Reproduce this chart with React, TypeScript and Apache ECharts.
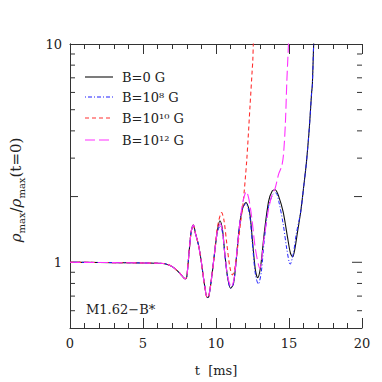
import React, { useEffect, useRef } from "react";
import * as echarts from "echarts";

// ---- data ----
const tBlack = [0, 2, 4, 6, 6.5, 7.0, 7.5, 7.9, 8.0, 8.15, 8.3, 8.45, 8.6, 8.8, 9.0, 9.2, 9.4, 9.5, 9.7, 9.9, 10.1, 10.27, 10.45, 10.6, 10.8, 11.0, 11.2, 11.4, 11.6, 11.8, 12.05, 12.3, 12.5, 12.7, 12.85, 13.05, 13.3, 13.6, 13.85, 14.05, 14.3, 14.6, 14.9, 15.1, 15.25, 15.4, 15.6, 15.8, 16.0, 16.2, 16.4, 16.55, 16.6, 16.7, 16.75];
const rhoBlack = [1.0, 0.998, 0.995, 0.99, 0.985, 0.955, 0.895, 0.84, 0.86, 1.1, 1.38, 1.48, 1.35, 1.2, 1.0, 0.8, 0.69, 0.695, 0.85, 1.1, 1.4, 1.55, 1.4, 1.1, 0.85, 0.76, 0.8, 1.05, 1.45, 1.75, 1.88, 1.7, 1.25, 0.92, 0.85, 0.95, 1.35, 1.9, 2.12, 2.15, 2.0, 1.7, 1.3, 1.1, 1.06, 1.15, 1.4, 1.7, 2.2, 2.9, 4.2, 6.0, 6.5, 10.5, 12];

const tBlue = [0, 2, 4, 6, 6.5, 7.0, 7.5, 7.9, 8.0, 8.15, 8.3, 8.45, 8.6, 8.8, 9.0, 9.2, 9.4, 9.5, 9.7, 9.9, 10.1, 10.3, 10.45, 10.6, 10.8, 11.0, 11.2, 11.4, 11.6, 11.8, 12.05, 12.3, 12.5, 12.7, 12.9, 13.1, 13.3, 13.6, 13.9, 14.1, 14.3, 14.6, 14.85, 15.08, 15.3, 15.5, 15.8, 16.0, 16.2, 16.4, 16.55, 16.6, 16.7, 16.75];
const rhoBlue = [1.0, 0.998, 0.995, 0.99, 0.985, 0.955, 0.895, 0.84, 0.86, 1.1, 1.38, 1.48, 1.35, 1.2, 1.0, 0.8, 0.69, 0.695, 0.85, 1.1, 1.38, 1.47, 1.36, 1.1, 0.85, 0.76, 0.8, 1.05, 1.45, 1.75, 1.86, 1.65, 1.2, 0.88, 0.795, 0.9, 1.25, 1.8, 2.05, 2.08, 1.9, 1.5, 1.15, 0.98, 1.1, 1.35, 1.7, 2.2, 2.9, 4.2, 6.0, 6.5, 10.5, 12];

const tRed = [0, 2, 4, 6, 6.5, 7.0, 7.5, 7.9, 8.0, 8.15, 8.3, 8.45, 8.6, 8.8, 9.0, 9.2, 9.4, 9.5, 9.7, 9.9, 10.1, 10.39, 10.55, 10.75, 10.95, 11.12, 11.3, 11.5, 11.7, 11.85, 12.1, 12.33, 12.48, 12.52, 12.56, 12.6];
const rhoRed = [1.0, 0.998, 0.995, 0.99, 0.985, 0.955, 0.895, 0.84, 0.86, 1.1, 1.38, 1.48, 1.35, 1.2, 1.0, 0.8, 0.69, 0.695, 0.85, 1.1, 1.45, 1.69, 1.55, 1.2, 0.95, 0.875, 0.95, 1.2, 1.55, 1.85, 2.9, 5.2, 7.6, 8.4, 10.2, 12];

const tMagenta = [0, 2, 4, 6, 6.5, 7.0, 7.5, 7.9, 8.0, 8.15, 8.3, 8.45, 8.6, 8.8, 9.0, 9.2, 9.4, 9.5, 9.7, 9.9, 10.1, 10.3, 10.45, 10.6, 10.8, 11.05, 11.25, 11.45, 11.65, 11.85, 12.08, 12.25, 12.45, 12.7, 13.0, 13.3, 13.6, 13.85, 14.05, 14.3, 14.5, 14.62, 14.75, 14.85, 14.97, 15.0];
const rhoMagenta = [1.0, 0.998, 0.995, 0.99, 0.985, 0.955, 0.895, 0.84, 0.86, 1.1, 1.38, 1.48, 1.35, 1.2, 1.0, 0.8, 0.69, 0.695, 0.85, 1.1, 1.4, 1.5, 1.38, 1.1, 0.86, 0.77, 0.85, 1.15, 1.55, 1.9, 2.11, 1.95, 1.6, 1.15, 0.94, 1.3, 1.75, 2.05, 2.18, 2.55, 2.75, 3.1, 4.3, 6.7, 10.2, 12];

const legendNames = ["B=0 G", "B=10⁸ G", "B=10¹⁰ G", "B=10¹² G"];
const seriesColors = ["#111", "#2020ff", "#ff3030", "#ff30ff"];
const seriesDash: any[] = ["solid", [1, 2, 4, 2], [4, 3], [10, 4]];
const xTickLabels = [0, 5, 10, 15, 20];
const yMajorLabels = [1, 10];
const yTickValues = [0.6, 0.7, 0.8, 0.9, 1, 2, 3, 4, 5, 6, 7, 8, 9];

const FONT = "DejaVu Serif";

function pairs(t: number[], v: number[]) {
  return t.map((x, i) => [x, v[i]]);
}

export default function App() {
  const ref = useRef<HTMLDivElement>(null);
  useEffect(() => {
    if (!ref.current) return;
    const chart = echarts.init(ref.current, null, { renderer: "svg" });
    const axisColor = "#333";
    const xAxisCommon = {
      type: "value",
      min: 0,
      max: 20,
      interval: 5,
      axisLine: { show: true, lineStyle: { color: axisColor, width: 1 } },
      axisTick: { show: true, inside: true, length: 10, lineStyle: { color: axisColor } },
      minorTick: { show: true, splitNumber: 5, length: 5, lineStyle: { color: axisColor } },
      splitLine: { show: false },
      minorSplitLine: { show: false },
    };
    const legendRowsY = [77, 97, 118, 140];
    const legendGraphics: any[] = [];
    legendNames.forEach((name, i) => {
      const dash = seriesDash[i];
      legendGraphics.push({
        type: "line",
        shape: { x1: 85, y1: legendRowsY[i], x2: 113, y2: legendRowsY[i] },
        style: {
          stroke: seriesColors[i],
          lineWidth: 1.1,
          lineDash: dash === "solid" ? null : dash,
        },
      });
      legendGraphics.push({
        type: "text",
        x: 122,
        y: legendRowsY[i],
        style: {
          text: name,
          fontFamily: FONT,
          fontSize: 13,
          fill: "#222",
          verticalAlign: "middle",
        },
      });
    });

    const lineSeries = [
      [tBlack, rhoBlack],
      [tBlue, rhoBlue],
      [tRed, rhoRed],
      [tMagenta, rhoMagenta],
    ].map(([t, v], i) => ({
      name: legendNames[i],
      type: "line",
      data: pairs(t as number[], v as number[]),
      showSymbol: false,
      symbol: "none",
      smooth: 0.3,
      lineStyle: { color: seriesColors[i], width: i === 1 ? 1 : 1.1, type: seriesDash[i] },
      itemStyle: { color: seriesColors[i] },
    }));

    const option: any = {
      animation: false,
      backgroundColor: "#fff",
      grid: { left: 70, right: 20, top: 44, bottom: 47, containLabel: false },
      xAxis: [
        {
          ...xAxisCommon,
          position: "bottom",
          axisLabel: {
            show: true,
            margin: 9,
            fontFamily: FONT,
            fontSize: 13,
            color: "#222",
            formatter: (v: number) => (xTickLabels.includes(v) ? String(v) : ""),
          },
          name: "t  [ms]",
          nameLocation: "middle",
          nameGap: 36,
          nameTextStyle: { fontFamily: FONT, fontSize: 13, color: "#222" },
        },
        {
          ...xAxisCommon,
          position: "top",
          axisLabel: { show: false },
        },
      ],
      yAxis: [
        {
          type: "log",
          logBase: 10,
          min: 0.5,
          max: 10,
          position: "left",
          axisLine: { show: true, lineStyle: { color: axisColor, width: 1 } },
          axisTick: { show: false },
          splitLine: { show: false },
          axisLabel: {
            show: true,
            margin: 8,
            fontFamily: FONT,
            fontSize: 13,
            color: "#222",
            showMinLabel: false,
            showMaxLabel: true,
            formatter: (v: number) => {
              const m = yMajorLabels.find((x) => Math.abs(x - v) < 1e-6);
              return m !== undefined ? String(m) : "";
            },
          },
        },
        {
          type: "log",
          logBase: 10,
          min: 0.5,
          max: 10,
          position: "right",
          axisLine: { show: true, lineStyle: { color: axisColor, width: 1 } },
          axisTick: { show: false },
          splitLine: { show: false },
          axisLabel: { show: false },
        },
      ],
      graphic: [
        ...legendGraphics,
        {
          type: "text",
          x: 86,
          y: 309,
          style: { text: "M1.62−B*", fontFamily: FONT, fontSize: 13, fill: "#222", verticalAlign: "middle" },
        },
        {
          type: "text",
          x: 16,
          y: 190,
          rotation: Math.PI / 2,
          style: {
            text: "{r|ρ}{s|max}{n|/}{r|ρ}{s|max}{n|(t=0)}",
            align: "center",
            verticalAlign: "middle",
            rich: {
              r: { fontFamily: FONT, fontStyle: "italic", fontSize: 15, fill: "#222", lineHeight: 20, verticalAlign: "middle" },
              n: { fontFamily: FONT, fontSize: 15, fill: "#222", lineHeight: 20, verticalAlign: "middle" },
              s: { fontFamily: FONT, fontSize: 10, fill: "#222", lineHeight: 10, verticalAlign: "bottom" },
            },
          },
        },
      ],
      series: [
        ...lineSeries,
        {
          name: "yticks",
          type: "custom",
          silent: true,
          clip: false,
          data: yTickValues.map((v) => [0, v]),
          encode: { x: 0, y: 1 },
          renderItem: (params: any, api: any) => {
            const v = api.value(1);
            const len = Math.abs(v - 1) < 1e-6 ? 10 : Math.abs(v - 2) < 1e-6 ? 8 : 5;
            const l = api.coord([0, v]);
            const r = api.coord([20, v]);
            return {
              type: "group",
              children: [
                { type: "line", shape: { x1: l[0], y1: l[1], x2: l[0] + len, y2: l[1] }, style: { stroke: axisColor, lineWidth: 1 } },
                { type: "line", shape: { x1: r[0], y1: r[1], x2: r[0] - len, y2: r[1] }, style: { stroke: axisColor, lineWidth: 1 } },
              ],
            };
          },
        },
      ],
    };
    chart.setOption(option);
    return () => chart.dispose();
  }, []);
  return <div ref={ref} style={{ width: 382, height: 382, position: "absolute", left: 0, top: 0 }} />;
}
